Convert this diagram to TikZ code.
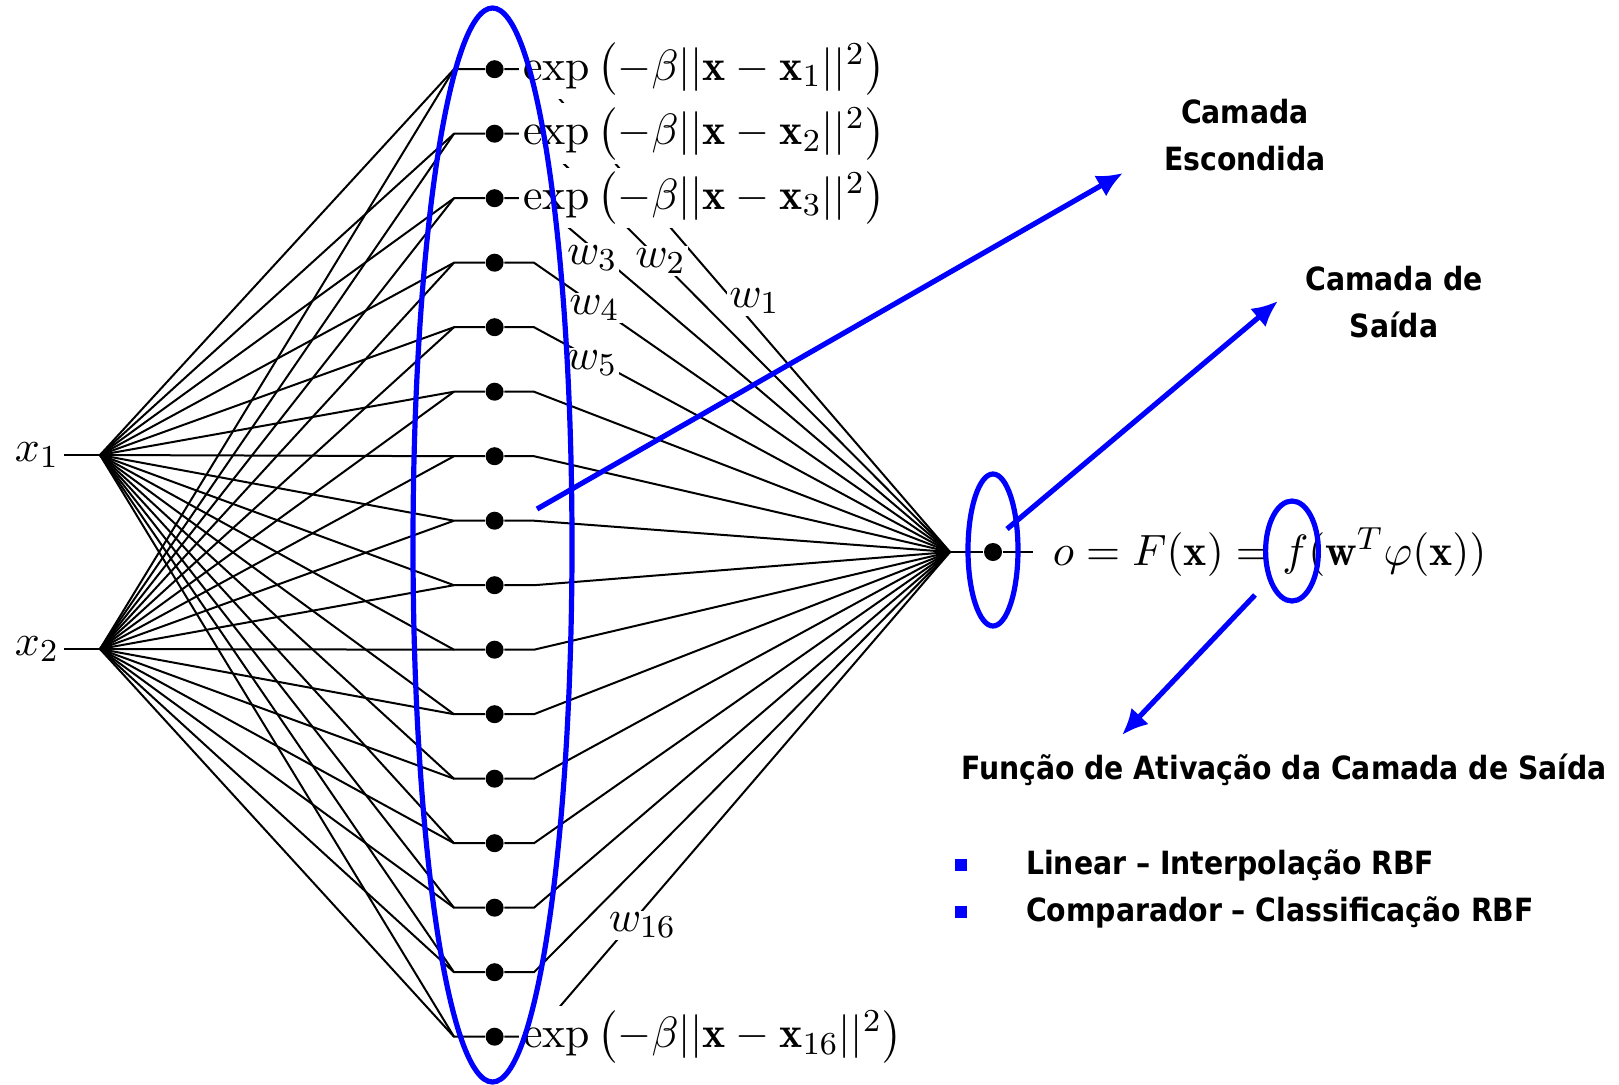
\documentclass[tikz,border=0pt]{standalone}
\usepackage{amsmath}
\usepackage{fontspec}
\usetikzlibrary{positioning,arrows.meta,shapes.geometric}
\newfontfamily\tahoma[FakeStretch=0.885]{DejaVu Sans Bold}

\tikzset{
  neuron/.style={circle, fill=black, inner sep=0pt, minimum size=4.5pt},
  link/.style={line width=0.5pt},
  mathlab/.style={inner sep=1pt, font=\fontsize{10.95}{13}\selectfont},
  explab/.style={mathlab, fill=white},
  wlab/.style={mathlab, fill=white, inner sep=0.5pt},
  hl/.style={draw=blue, line width=1.3pt, ellipse, inner sep=0pt},
  hlarrow/.style={blue, line width=1.3pt, -{Latex[length=6.5pt,width=6pt]}},
  txt/.style={font=\tahoma\fontsize{8}{11.6}\selectfont, align=center, inner sep=0pt},
  bullet/.style={fill=blue, inner sep=0pt, minimum size=2.8pt},
}

\begin{document}
\begin{tikzpicture}[x=0.25pt,y=-0.25pt]
\useasboundingbox (0,0) rectangle (1619,1084);
\def\hx{494.6}
% entradas
\coordinate (in1) at (100,455);
\coordinate (in2) at (100,649);
\coordinate (outf) at (950,552);
\node[mathlab] (x1) at (37,455) {$x_1$};
\node[mathlab] (x2) at (37,649) {$x_2$};
\draw[link] (x1) -- (in1);
\draw[link] (x2) -- (in2);

% camada escondida
\foreach \i in {1,...,16}{
  \pgfmathsetmacro{\yy}{69.2+64.5*(\i-1)}
  \coordinate (l\i) at (454,\yy);
  \coordinate (r\i) at (534,\yy);
  \node[neuron] (h\i) at (\hx,\yy) {};
  \draw[link] (in1) -- (l\i) -- (h\i) -- (r\i) -- (outf);
  \draw[link] (in2) -- (l\i);
}
\foreach \i in {1,2,3,16}
  \node[explab, right=3.5pt of h\i] (e\i)
    {$\exp\left(-\beta||\mathbf{x}-\mathbf{x}_{\i}||^2\right)$};

% pesos
\path (r1) -- (outf) node[wlab, pos=.48, xshift=5.2pt] (w1) {$w_1$};
\path (r2) -- (outf) node[wlab, pos=.304] (w2) {$w_2$};
\path (r3) -- (outf) node[wlab, pos=.169, xshift=-3pt] (w3) {$w_3$};
\path (r4) -- (outf) node[wlab, pos=.157, xshift=-1.2pt] (w4) {$w_4$};
\path (r5) -- (outf) node[wlab, pos=.159, xshift=-2pt] (w5) {$w_5$};
\path (r16) -- (outf) node[wlab, pos=.23, xshift=3.2pt] (w16) {$w_{16}$};

% saida
\node[neuron] (o) at (993,552) {};
\coordinate (oend) at (1033,552);
\draw[link] (outf) -- (o);
\draw[link] (o) -- (oend);
\node[mathlab, inner sep=0pt, right=4.75pt of oend] (eq)
  {$o = F(\mathbf{x}) = f(\mathbf{w}^T\varphi(\mathbf{x}))$};

% destaques
\node[hl, minimum width=39.75pt, minimum height=268.5pt] (hidring) at (492.5,545) {};
\node[hl, minimum width=12.5pt, minimum height=38pt] (outring) at (993,550) {};
\node[hl, minimum width=13.2pt, minimum height=25pt] (fring) at (1292,551) {};

\coordinate (a1s) at (537,509);
\coordinate (a1e) at (1123,173);
\coordinate (a2s) at (1007,529);
\coordinate (a2e) at (1278,301);
\coordinate (a3s) at (1255,595);
\coordinate (a3e) at (1122,735);
\draw[hlarrow] (a1s) -- (a1e);
\draw[hlarrow] (a2s) -- (a2e);
\draw[hlarrow] (a3s) -- (a3e);

\node[txt] (tesc) at (1245,135) {Camada\\Escondida};
\node[txt] (tsai) at (1394,302) {Camada de\\Saída};
\node[txt] (tfun) at (1284,770) {Função de Ativação da Camada de Saída};
\node[bullet] (b1) at (961,865) {};
\node[bullet] (b2) at (961,912) {};
\node[txt, right=14.5pt of b1] (tlin) {Linear – Interpolação RBF};
\node[txt, right=14.5pt of b2] (tcmp) {Comparador – Classificação RBF};
\end{tikzpicture}
\end{document}
